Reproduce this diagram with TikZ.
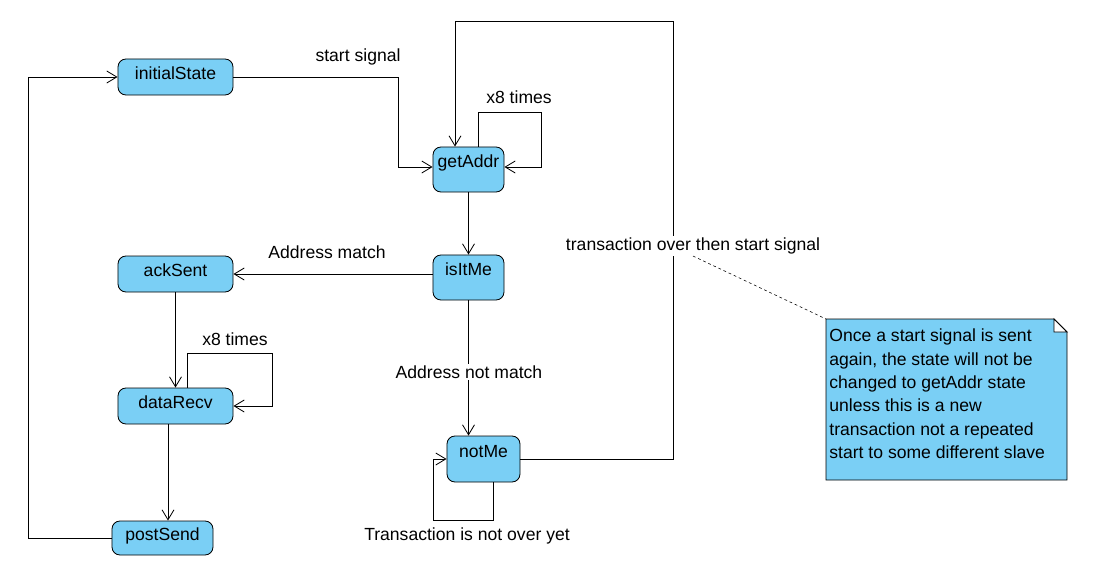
\documentclass[tikz,border=0pt]{standalone}
\usepackage{fontspec}
\setmainfont{Liberation Sans}
\usetikzlibrary{arrows.meta,calc}
\definecolor{stateblue}{RGB}{122,207,245}

\begin{document}
\begin{tikzpicture}[x=0.025cm, y=-0.025cm, line width=0.6pt,
    >={Straight Barb[length=0.25cm, width=0.3cm]},
    state/.style = {draw, fill=stateblue, rounded corners=0.2cm, inner sep=0pt, text height=0.315cm, text depth=0.2cm, font=\fontsize{12.5}{15}\selectfont},
    tall/.style = {text depth=0.4cm},
    lbl/.style = {inner sep=1pt, font=\fontsize{12.5}{15}\selectfont}]
    \useasboundingbox (0,0) rectangle (1101,567);

    \node at (175.5,77) [state, minimum width=2.875cm, minimum height=0.9cm] (initialState) {initialState};
    \node at (468.5,169.5) [state, tall, minimum width=1.775cm, minimum height=1.125cm] (getAddr) {getAddr};
    \node at (468.5,277.5) [state, tall, minimum width=1.775cm, minimum height=1.125cm] (isItMe) {isItMe};
    \node at (175.5,274) [state, minimum width=2.875cm, minimum height=0.9cm] (ackSent) {ackSent};
    \node at (175.5,406) [state, minimum width=2.875cm, minimum height=0.9cm] (dataRecv) {dataRecv};
    \node at (483.5,459) [state, tall, minimum width=1.825cm, minimum height=1.15cm] (notMe) {notMe};
    \node at (162.5,538) [state, minimum width=2.525cm, minimum height=0.85cm] (postSend) {postSend};

    \draw[->] (initialState.east) -| (398,167) -- (getAddr.west |- 0,167);
    \node at (358,57) [lbl] (startlbl) {start signal};

    %getAddr loop
    \draw[->] (getAddr.north) ++(9.5,0) |- (541,112) |- (getAddr.east |- 0,167);
    \node at (519,97) [lbl] (loopA) {x8 times};

    \draw[->] (getAddr) -- (isItMe);

    %address match
    \draw[->] (isItMe.west |- ackSent) -- (ackSent.east);
    \node at (327,252) [lbl] (matchlbl) {Address match};

    %address not match
    \draw[->] (isItMe.south) -- (isItMe.south |- notMe.north);
    \node at (469,372) [lbl, fill=white] (nomatchlbl) {Address not match};

    \draw[->] (ackSent) -- (dataRecv);

    %dataRecv loop
    \draw[->] (dataRecv.north) ++(11.5,0) |- (272,353) |- (dataRecv.east);
    \node at (235,339) [lbl] (loopB) {x8 times};

    \draw[->] (dataRecv.south) ++(-7.5,0) coordinate (d) -- (d |- postSend.north);
    \draw[->] (postSend.west) -| (28,77) -- (initialState.west);

    %notMe loop
    \draw[->] (notMe.south) ++(9.5,0) |- (433,520) |- (notMe.west);
    \node at (467,536) [lbl] (notoverlbl) {Transaction is not over yet};

    %back to getAddr
    \draw[->] (notMe.east) -| (673,21) -| ($(getAddr.north)+(-13.5,0)$);
    \node at (693,246) [lbl, fill=white] (trlbl) {transaction over then start signal};

    %note
    \coordinate (notecorner) at (826,319);
    \draw[fill=stateblue] (notecorner) -- (1054,319) -- (1067,332) -- (1067,480) -- (826,480) -- cycle;
    \draw[fill=white] (1054,319) -- (1067,332) -- (1054,332) -- cycle;
    \node at (829,328.5) [anchor=north west, align=left, inner sep=0pt, font=\fontsize{12.5}{16.6}\selectfont] (notetxt) {Once a start signal is sent\\again, the state will not be\\changed to getAddr state\\unless this is a new\\transaction not a repeated\\start to some different slave};
    \draw[dashed, dash pattern=on 2pt off 2pt, line width=0.4pt] (trlbl.south) -- (notecorner);

\end{tikzpicture}
\end{document}
